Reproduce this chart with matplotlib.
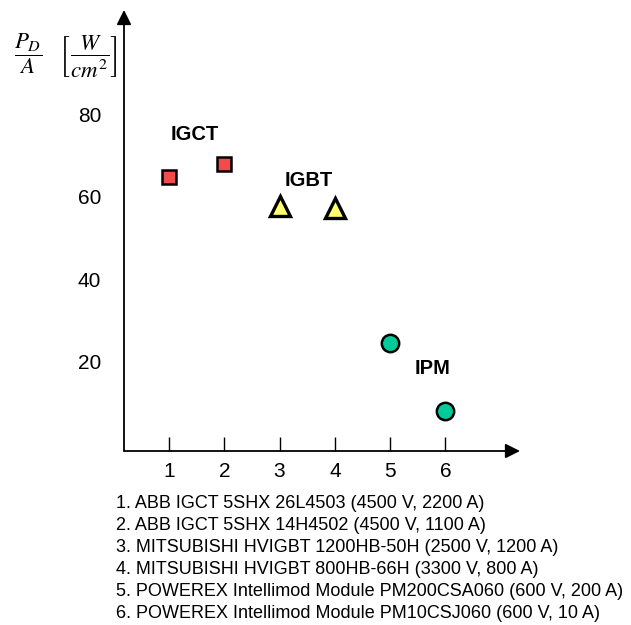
import matplotlib

matplotlib.use("Agg")

import matplotlib.pyplot as plt

plt.rcParams["font.family"] = ["Liberation Sans", "DejaVu Sans"]
plt.rcParams["mathtext.fontset"] = "stix"

# Device power density P_D / A [W/cm^2]
igct_x = [1, 2]
igct_y = [64.8, 68.0]
igbt_x = [3, 4]
igbt_y = [57.8, 57.2]
ipm_x = [5, 6]
ipm_y = [24.6, 8.2]

x_ticks = [1, 2, 3, 4, 5, 6]
y_ticks = [20, 40, 60, 80]

devices = [
    "1. ABB IGCT 5SHX 26L4503 (4500 V, 2200 A)",
    "2. ABB IGCT 5SHX 14H4502 (4500 V, 1100 A)",
    "3. MITSUBISHI HVIGBT 1200HB-50H (2500 V, 1200 A)",
    "4. MITSUBISHI HVIGBT 800HB-66H (3300 V, 800 A)",
    "5. POWEREX Intellimod Module PM200CSA060 (600 V, 200 A)",
    "6. POWEREX Intellimod Module PM10CSJ060 (600 V, 10 A)",
]

fig = plt.figure(figsize=(6.31, 6.25), dpi=100)
ax = fig.add_axes([124 / 631, 1 - 451 / 625, (520 - 124) / 631, (451 - 10) / 625])

ax.set_xlim(0.186, 7.35)
ax.set_ylim(-1.6, 105.3)

ax.plot(igct_x, igct_y, "s", ms=10, mfc="#F24B4B", mec="black", mew=1.8, clip_on=False)
ax.plot(igbt_x, igbt_y, "^", ms=15, mfc="#FFFF70", mec="black", mew=2.4, clip_on=False)
ax.plot(ipm_x, ipm_y, "o", ms=12.5, mfc="#00CC99", mec="black", mew=1.8, clip_on=False)

bold = dict(fontsize=14.5, fontweight="bold", ha="center", va="center")
ax.text(1.47, 75.0, "IGCT", **bold)
ax.text(3.52, 63.9, "IGBT", **bold)
ax.text(5.76, 18.5, "IPM", **bold)

# axes with arrow heads
for s in ax.spines.values():
    s.set_visible(False)
arrow = dict(arrowstyle="-|>", color="black", lw=1.3, mutation_scale=22, shrinkA=0, shrinkB=0)
ax.annotate("", xy=(0, 1.0), xytext=(0, 0), xycoords="axes fraction", arrowprops=arrow)
ax.annotate("", xy=(1.0, 0), xytext=(0, 0), xycoords="axes fraction", arrowprops=arrow)

ax.set_xticks(x_ticks)
ax.set_xticklabels([str(t) for t in x_ticks])
ax.tick_params(axis="x", direction="in", length=10, width=1, labelsize=15, pad=8)
ax.set_yticks(y_ticks)
ax.set_yticklabels([str(t) for t in y_ticks])
ax.tick_params(axis="y", length=0, labelsize=15, pad=16.5)

fig.text(
    66 / 631, 1 - 56 / 625,
    r"$\dfrac{P_D}{A}\quad\left[\dfrac{W}{cm^2}\right]$",
    fontsize=16.5, ha="center", va="center",
)

for i, line in enumerate(devices):
    fig.text(116 / 631, 1 - (503 + i * 22) / 625, line, fontsize=13, ha="left", va="center")

fig.savefig("out.png", dpi=100)
